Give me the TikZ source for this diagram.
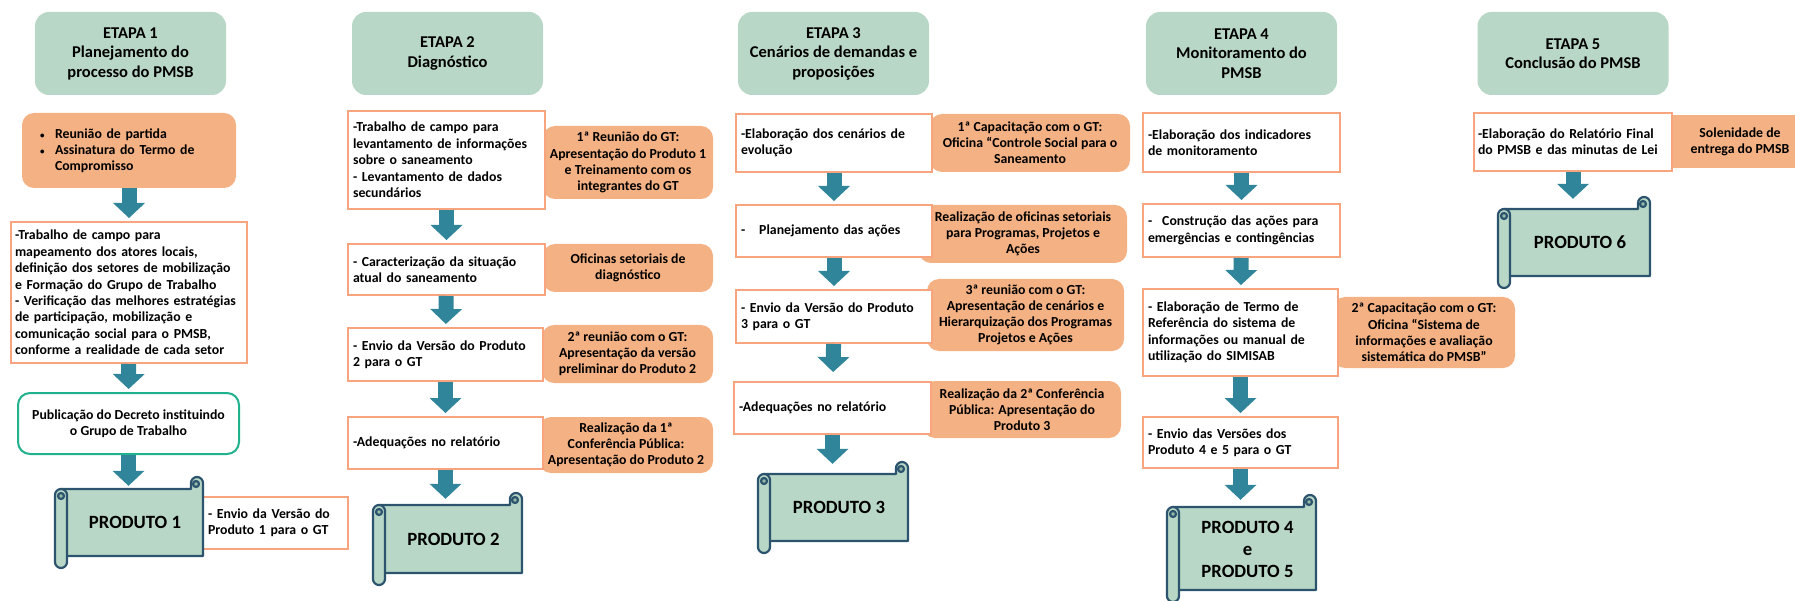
\documentclass[tikz,border=0pt]{standalone}
\usepackage{fontspec}
\setmainfont{Carlito}
\usetikzlibrary{arrows.meta}

\definecolor{verdeetapa}{RGB}{185,215,198}
\definecolor{laranja}{RGB}{244,177,131}
\definecolor{salmao}{RGB}{248,165,127}
\definecolor{azulseta}{RGB}{49,133,155}
\definecolor{bordarolo}{RGB}{44,84,110}
\definecolor{verdeescuro}{RGB}{150,185,168}
\definecolor{verdeagua}{RGB}{32,178,140}

\tikzset{
  etapa/.style={fill=verdeetapa, rounded corners=14pt, minimum width=191pt, minimum height=83pt,
    align=center, font=\fontsize{16.5}{19.5}\selectfont\bfseries},
  atividade/.style={draw=salmao, line width=2pt, fill=white, text width=187pt, inner xsep=5pt,
    align=left, font=\fontsize{13.8}{16.4}\selectfont\bfseries},
  evento/.style={fill=laranja, rounded corners=12pt, align=center, font=\fontsize{13.8}{16.2}\selectfont\bfseries},
  decreto/.style={draw=verdeagua, line width=2pt, fill=white, rounded corners=12pt, align=center,
    font=\fontsize{13.8}{16.4}\selectfont\bfseries},
  produto/.style={align=center, font=\fontsize{18.7}{22}\selectfont\bfseries},
  rolo/.style={draw=bordarolo, line width=2.2pt, fill=verdeetapa, line join=round},
  seta/.style={color=azulseta, line width=15pt, -{Triangle[width=32pt,length=15pt,line width=0pt]}, shorten >=3pt},
}

% marcador de lista
\newcommand{\marca}{\makebox[15pt][l]{\fontsize{9}{9}\selectfont\textbullet}}

% pergaminho: esquerda, topo, direita, base (em px)
\newcommand{\pergaminho}[4]{%
  \filldraw[rolo] (#1+6,#2+12) -- (#3-12,#2+12) -- (#3-12,#2+6)
    arc[start angle=180, end angle=360, radius=6] -- (#3,#4-12) -- (#1+6,#4-12) -- cycle;
  \filldraw[rolo, fill=verdeescuro] (#3-7,#2+7) circle (3);
  \filldraw[rolo, rounded corners=6pt] (#1,#2+12) rectangle (#1+12,#4);
  \filldraw[rolo, fill=verdeescuro] (#1+6,#2+19) circle (3);
}

\begin{document}
\begin{tikzpicture}[x=1pt, y=-1pt]
\useasboundingbox (0,0) rectangle (1795,601);
\clip (0,0) rectangle (1795,601);

% etapas
\node[etapa] (etapa1) at (130.5,53.5) {ETAPA 1\\Planejamento do\\processo do PMSB};
\node[etapa] (etapa2) at (447.5,53.5) {ETAPA 2\\Diagnóstico};
\node[etapa] (etapa3) at (833.5,53.5) {ETAPA 3\\Cenários de demandas e\\proposições};
\node[etapa] (etapa4) at (1241.5,53.5) {ETAPA 4\\Monitoramento do\\PMSB};
\node[etapa] (etapa5) at (1573,53.5) {ETAPA 5\\Conclusão do PMSB};

%-------------------------------------
% eventos (laranja)
\node[evento, align=left, text width=178pt, inner xsep=18pt, minimum height=75pt] (ev1) at (129,150.5)
  {\marca Reunião de partida\\
   \marca Assinatura do Termo de\\
   \hspace*{15pt}Compromisso};
\node[evento, minimum width=170pt, minimum height=73pt] (ev2a) at (628,162.5)
  {1ª Reunião do GT:\\Apresentação do Produto 1\\e Treinamento com os\\integrantes do GT};
\node[evento, minimum width=170pt, minimum height=48pt] (ev2b) at (628,268)
  {Oficinas setoriais de\\diagnóstico};
\node[evento, minimum width=171pt, minimum height=58pt] (ev2c) at (627.5,354)
  {2ª reunião com o GT:\\Apresentação da versão\\preliminar do Produto 2};
\node[evento, minimum width=174pt, minimum height=56pt] (ev2d) at (626,445)
  {Realização da 1ª\\Conferência Pública:\\Apresentação do Produto 2};
\node[evento, minimum width=200pt, minimum height=58pt] (ev3a) at (1030,143)
  {1ª Capacitação com o GT:\\Oficina “Controle Social para o\\Saneamento};
\node[evento, minimum width=208pt, minimum height=58pt] (ev3b) at (1023,234)
  {Realização de oficinas setoriais\\para Programas, Projetos e\\Ações};
\node[evento, minimum width=197pt, minimum height=72pt] (ev3c) at (1025.5,315)
  {3ª reunião com o GT:\\Apresentação de cenários e\\Hierarquização dos Programas\\Projetos e Ações};
\node[evento, minimum width=198pt, minimum height=57pt] (ev3d) at (1022,409.5)
  {Realização da 2ª Conferência\\Pública: Apresentação do\\Produto 3};
\node[evento, minimum width=182pt, minimum height=71pt] (ev4c) at (1424,332.5)
  {2ª Capacitação com o GT:\\Oficina “Sistema de\\informações e avaliação\\sistemática do PMSB”};
\node[evento, rounded corners=0pt, minimum width=140pt, minimum height=53pt] (ev5a) at (1740,141.5)
  {Solenidade de\\entrega do PMSB};

%-------------------------------------
% atividades (brancas)
\node[atividade, text width=228pt, inner xsep=4pt, minimum height=141pt] (at1a) at (129,292.5)
  {-Trabalho de campo para\\mapeamento dos atores locais,\\definição dos setores de mobilização\\e Formação do Grupo de Trabalho\\- Verificação das melhores estratégias\\de participação, mobilização e\\comunicação social para o PMSB,\\conforme a realidade de cada setor};
\node[decreto, minimum width=221pt, minimum height=61pt] (decreto) at (128.5,423.5)
  {Publicação do Decreto instituindo\\o Grupo de Trabalho};
\node[atividade, text width=135pt, minimum height=52pt] (envio1) at (275.5,523)
  {- Envio da Versão do\\Produto 1 para o GT};

\node[atividade, minimum height=98pt] (at2a) at (446.5,160)
  {-Trabalho de campo para\\levantamento de informações\\sobre o saneamento\\- Levantamento de dados\\secundários};
\node[atividade, minimum height=51pt] (at2b) at (446.5,269.5)
  {- Caracterização da situação\\atual do saneamento};
\node[atividade, text width=185pt, minimum height=53pt] (at2c) at (445.5,354.5)
  {- Envio da Versão do Produto\\2 para o GT};
\node[atividade, text width=185pt, minimum height=52pt] (at2d) at (445.5,443)
  {-Adequações no relatório};

\node[atividade, text width=186pt, minimum height=58pt] (at3a) at (834,143)
  {-Elaboração dos cenários de\\evolução};
\node[atividade, text width=186pt, minimum height=52pt] (at3b) at (834,231)
  {-\hspace{14pt}Planejamento das ações\\[6pt]};
\node[atividade, text width=186pt, minimum height=53pt] (at3c) at (834,316.5)
  {- Envio da Versão do Produto\\3 para o GT};
\node[atividade, minimum height=52pt] (at3d) at (832.5,408)
  {-Adequações no relatório\\[4pt]};

\node[atividade, minimum height=59pt] (at4a) at (1241.5,142.5)
  {-Elaboração dos indicadores\\de monitoramento};
\node[atividade, minimum height=53pt] (at4b) at (1241.5,230.5)
  {-\hspace{10pt}Construção das ações para\\emergências e contingências};
\node[atividade, text width=185pt, minimum height=87pt] (at4c) at (1240.5,332.5)
  {- Elaboração de Termo de\\Referência do sistema de\\informações ou manual de\\utilização do SIMISAB};
\node[atividade, text width=185pt, minimum height=51pt] (at4d) at (1240.5,442.5)
  {- Envio das Versões dos\\Produto 4 e 5 para o GT};

\node[atividade, text width=190pt, inner xsep=4pt, minimum height=58pt] (at5a) at (1573,142)
  {-Elaboração do Relatório Final\\do PMSB e das minutas de Lei};

%-------------------------------------
% produtos (pergaminhos)
\pergaminho{55}{477}{203}{568}
\pergaminho{373}{493}{522}{585}
\pergaminho{758}{462}{908}{553}
\pergaminho{1167}{495}{1316}{602}
\pergaminho{1498}{197}{1650}{288}

\node[produto, minimum width=136pt, minimum height=67pt] (prod1) at (135,522.5) {PRODUTO 1};
\node[produto, minimum width=137pt, minimum height=68pt] (prod2) at (453.5,539) {PRODUTO 2};
\node[produto, minimum width=138pt, minimum height=67pt] (prod3) at (839,507.5) {PRODUTO 3};
\node[produto, minimum width=137pt, minimum height=83pt] (prod4) at (1247.5,549.5) {PRODUTO 4\\e\\PRODUTO 5};
\node[produto, minimum width=140pt, minimum height=67pt] (prod6) at (1580,242.5) {PRODUTO 6};

%-------------------------------------
% setas
\draw[seta] (ev1) -- (at1a);
\draw[seta] (at1a) -- (decreto);
\draw[seta] (decreto.south) -- (decreto.south |- prod1.north);

\draw[seta] (at2a) -- (at2b);
\draw[seta] (at2b) -- (at2c);
\draw[seta] (at2c) -- (at2d);
\draw[seta, shorten >=6pt] (at2d.south) -- (at2d.south |- prod2.north);

\draw[seta] (at3a) -- (at3b);
\draw[seta] (at3b) -- (at3c);
\draw[seta, shorten >=9pt] (at3c) -- (at3d);
\draw[seta, shorten >=10pt] (at3d.south) -- (at3d.south |- prod3.north);

\draw[seta] (at4a) -- (at4b);
\draw[seta] (at4b) -- (at4c);
\draw[seta] (at4c) -- (at4d);
\draw[seta, shorten >=8pt] (at4d.south) -- (at4d.south |- prod4.north);

\draw[seta, shorten >=10pt] (at5a.south) -- (at5a.south |- prod6.north);

\end{tikzpicture}
\end{document}
